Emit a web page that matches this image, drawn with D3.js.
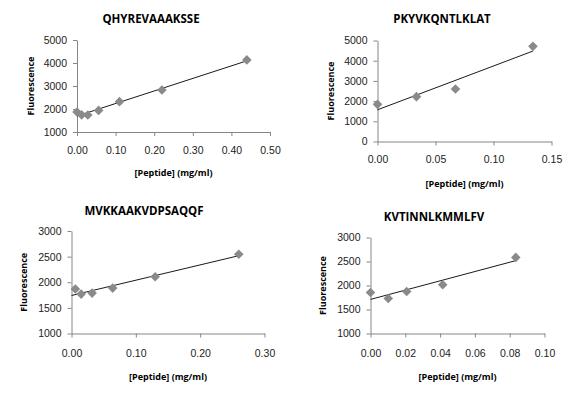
<!DOCTYPE html>
<html>
<head>
<meta charset="utf-8">
<script src="https://cdn.jsdelivr.net/npm/d3@7"></script>
<style>
  body { margin: 0; background: #fff; }
  svg { display: block; font-family: "Open Sans", sans-serif; }
  .tick text { fill: #222; font-size: 10.5px; }
  .title { font-size: 11.5px; font-weight: bold; fill: #000; }
  .axis-label { font-size: 9px; font-weight: bold; fill: #000; }
</style>
</head>
<body>
<svg id="chart" width="576" height="396"></svg>
<script>
// values
var titles = ['QHYREVAAAKSSE', 'PKYVKQNTLKLAT', 'MVKKAAKVDPSAQQF', 'KVTINNLKMMLFV'];

var p1X = [0, 0.012, 0.028, 0.056, 0.11, 0.22, 0.44];
var p1Y = [1870, 1745, 1740, 1940, 2320, 2825, 4135];
var p2X = [0, 0.0336, 0.0672, 0.134];
var p2Y = [1840, 2220, 2600, 4710];
var p3X = [0.006, 0.015, 0.032, 0.064, 0.13, 0.26];
var p3Y = [1867, 1769, 1788, 1886, 2107, 2545];
var p4X = [0, 0.0102, 0.0208, 0.0415, 0.0835];
var p4Y = [1855, 1730, 1875, 2015, 2585];

var p1XTicks = [0, 0.1, 0.2, 0.3, 0.4, 0.5];
var p1YTicks = [1000, 2000, 3000, 4000, 5000];
var p2XTicks = [0, 0.05, 0.1, 0.15];
var p2YTicks = [0, 1000, 2000, 3000, 4000, 5000];
var p3XTicks = [0, 0.1, 0.2, 0.3];
var p3YTicks = [1000, 1500, 2000, 2500, 3000];
var p4XTicks = [0, 0.02, 0.04, 0.06, 0.08, 0.1];
var p4YTicks = [1000, 1500, 2000, 2500, 3000];

var xLabel = '[Peptide] (mg/ml)';
var yLabel = 'Fluorescence';

// where each little chart sits on the page
var panels = [
  { title: titles[0], xs: p1X, ys: p1Y, xt: p1XTicks, yt: p1YTicks,
    l: 77, r: 270, t: 40, b: 132, titleX: 151, titleY: 18.5, yLabX: 30, xTickY: 150, xLabY: 172.5 },
  { title: titles[1], xs: p2X, ys: p2Y, xt: p2XTicks, yt: p2YTicks,
    l: 377.5, r: 551.5, t: 40.5, b: 141.5, titleX: 442, titleY: 18.5, yLabX: 330, xTickY: 159, xLabY: 183 },
  { title: titles[2], xs: p3X, ys: p3Y, xt: p3XTicks, yt: p3YTicks,
    l: 71.5, r: 264.5, t: 231, b: 333.5, titleX: 144, titleY: 210, yLabX: 23, xTickY: 353, xLabY: 376.5 },
  { title: titles[3], xs: p4X, ys: p4Y, xt: p4XTicks, yt: p4YTicks,
    l: 370.5, r: 544.5, t: 237.5, b: 333.5, titleX: 434, titleY: 216.5, yLabX: 322.5, xTickY: 353, xLabY: 376.5 }
];

var svg = d3.select('#chart');

panels.forEach(drawPanel);

function drawPanel(p) {
  var x = d3.scaleLinear()
      .domain(d3.extent(p.xt))
      .range([p.l, p.r]);
  var y = d3.scaleLinear()
      .domain(d3.extent(p.yt))
      .range([p.b, p.t]);

  var g = svg.append('g');

  var xAxis = g.append('g')
      .attr('transform', 'translate(0,' + p.b + ')')
      .call(d3.axisBottom(x).tickValues(p.xt).tickSize(4).tickSizeOuter(0)
        .tickFormat(d3.format('.2f')));
  var yAxis = g.append('g')
      .attr('transform', 'translate(' + p.l + ',0)')
      .call(d3.axisLeft(y).tickValues(p.yt).tickSize(4).tickSizeOuter(0)
        .tickPadding(6).tickFormat(d3.format('d')));

  [xAxis, yAxis].forEach(function (a) {
    a.select('.domain').attr('stroke', '#868686');
    a.selectAll('.tick line').attr('stroke', '#868686');
    a.selectAll('.tick text').attr('font-size', null).attr('font-family', null);
  });
  // centre the x tick labels on the row seen in the picture
  xAxis.selectAll('.tick text')
      .attr('y', p.xTickY - p.b)
      .attr('dy', '0.35em');

  // least squares trend line, drawn from 0 to the last point
  var mx = d3.mean(p.xs), my = d3.mean(p.ys);
  var sxy = d3.sum(p.xs, function (d, i) { return (d - mx) * (p.ys[i] - my); });
  var sxx = d3.sum(p.xs, function (d) { return (d - mx) * (d - mx); });
  var slope = sxy / sxx, icpt = my - slope * mx;
  var ends = [0, d3.max(p.xs)];
  g.append('path')
      .datum(ends)
      .attr('fill', 'none')
      .attr('stroke', '#1a1a1a')
      .attr('stroke-width', 1)
      .attr('d', d3.line()
        .x(function (d) { return x(d); })
        .y(function (d) { return y(icpt + slope * d); }));

  var sym = d3.symbol().type(d3.symbolSquare).size(46);
  g.selectAll('.pt')
      .data(p.xs)
    .enter().append('path')
      .attr('class', 'pt')
      .attr('d', sym)
      .attr('fill', '#8a8a8a')
      .attr('transform', function (d, i) {
        return 'translate(' + x(d) + ',' + y(p.ys[i]) + ') rotate(45)';
      });

  g.append('text')
      .attr('class', 'title')
      .attr('x', p.titleX)
      .attr('y', p.titleY)
      .attr('text-anchor', 'middle')
      .attr('dominant-baseline', 'central')
      .text(p.title);

  g.append('text')
      .attr('class', 'axis-label')
      .attr('x', (p.l + p.r) / 2)
      .attr('y', p.xLabY)
      .attr('text-anchor', 'middle')
      .attr('dominant-baseline', 'central')
      .text(xLabel);

  g.append('text')
      .attr('class', 'axis-label')
      .attr('transform', 'translate(' + p.yLabX + ',' + (p.t + p.b) / 2 + ') rotate(-90)')
      .attr('text-anchor', 'middle')
      .attr('dominant-baseline', 'central')
      .text(yLabel);
}
</script>
</body>
</html>
